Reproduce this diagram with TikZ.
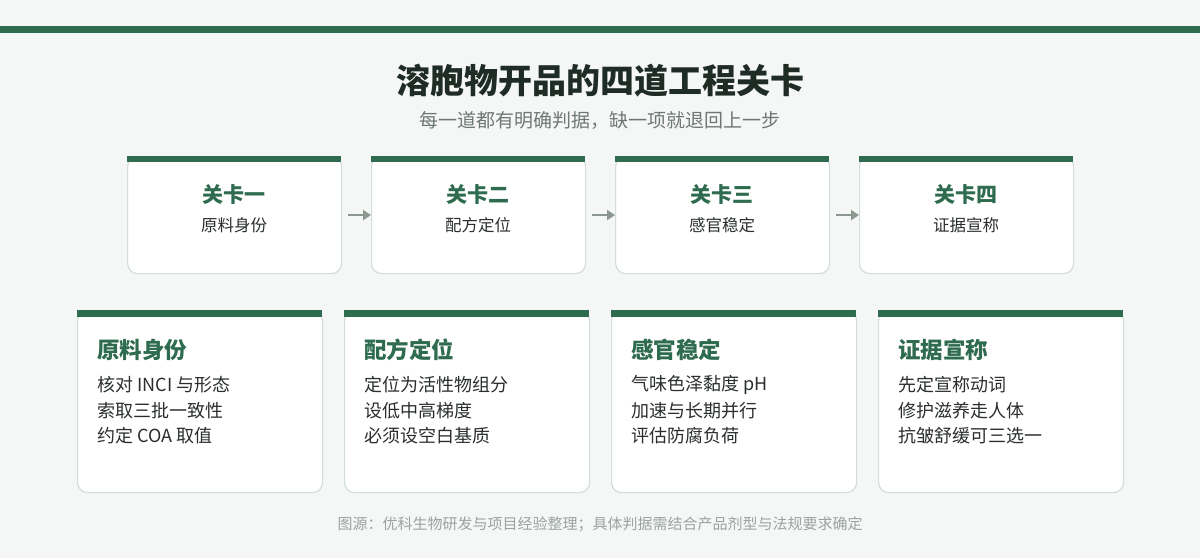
\documentclass[tikz,border=0pt]{standalone}
\usepackage{fontspec}
\setmainfont{Noto Sans CJK SC}
\usetikzlibrary{arrows.meta}
\definecolor{bg}{HTML}{F5F7F6}
\definecolor{gr}{HTML}{2E6B4F}
\definecolor{bord}{HTML}{D3DDD9}
\definecolor{dark}{HTML}{1F2B25}
\definecolor{body}{HTML}{2A2F2C}
\definecolor{sub}{HTML}{6E7873}
\definecolor{foot}{HTML}{9AA39F}
\definecolor{arr}{HTML}{8C9790}
\tikzset{
  card/.style={draw=bord, line width=1.2pt, fill=white, rounded corners=10pt, inner sep=0pt},
  topcard/.style={card, minimum width=214pt, minimum height=117pt},
  botcard/.style={card, minimum width=245pt, minimum height=182pt},
  gbar/.style={fill=gr, draw=none},
  gate/.style={font=\bfseries\fontsize{21}{24}\selectfont, text=gr},
  gatesub/.style={font=\fontsize{16.5}{20}\selectfont, text=body},
  btitle/.style={font=\bfseries\fontsize{22.5}{26}\selectfont, text=gr, anchor=west, inner sep=0pt},
  bline/.style={font=\fontsize{18}{21}\selectfont, text=body, anchor=west, inner sep=0pt},
  flow/.style={draw=arr, line width=2.4pt, -{Triangle[length=8pt,width=10pt]}}
}
\begin{document}
\begin{tikzpicture}[x=1pt,y=-1pt]
\fill[bg] (0,0) rectangle (1200,558);
\useasboundingbox (0,0) rectangle (1200,558);
\fill[gr] (0,26) rectangle (1200,33);
\node[font=\bfseries\fontsize{34}{38}\selectfont, text=dark] (title) at (600,81) {溶胞物开品的四道工程关卡};
\node[font=\fontsize{19}{22}\selectfont, text=sub] (subtitle) at (600,120) {每一道都有明确判据，缺一项就退回上一步};
% top cards
\foreach \i/\x/\g/\s in {1/127/关卡一/原料身份, 2/371/关卡二/配方定位, 3/615/关卡三/感官稳定, 4/859/关卡四/证据宣称}{
  \node[topcard, anchor=north west] (t\i) at (\x,156) {};
  \fill[gbar] (\x,156) rectangle ++(214,5.5);
  \node[gate] (tg\i) at (\x+107,195) {\g};
  \node[gatesub] (ts\i) at (\x+107,225) {\s};
}
\draw[flow] ([xshift=6pt]t1.east) -- (t2.west);
\draw[flow] ([xshift=6pt]t2.east) -- (t3.west);
\draw[flow] ([xshift=6pt]t3.east) -- (t4.west);
% bottom cards
\foreach \i/\x/\t/\a/\b/\c in {1/77/原料身份/核对 INCI 与形态/索取三批一致性/约定 COA 取值, 2/344/配方定位/定位为活性物组分/设低中高梯度/必须设空白基质, 3/611/感官稳定/气味色泽黏度 pH/加速与长期并行/评估防腐负荷, 4/878/证据宣称/先定宣称动词/修护滋养走人体/抗皱舒缓可三选一}{
  \node[botcard, anchor=north west] (b\i) at (\x,310) {};
  \fill[gbar] (\x,310) rectangle ++(245,6.5);
  \node[btitle] (bt\i) at (\x+20,350) {\t};
  \node[bline] (ba\i) at (\x+20,385) {\a};
  \node[bline] (bb\i) at (\x+20,410.5) {\b};
  \node[bline] (bc\i) at (\x+20,436) {\c};
}
\node[font=\fontsize{15}{18}\selectfont, text=foot] (footer) at (600,524) {图源：优科生物研发与项目经验整理；具体判据需结合产品剂型与法规要求确定};
\end{tikzpicture}
\end{document}
